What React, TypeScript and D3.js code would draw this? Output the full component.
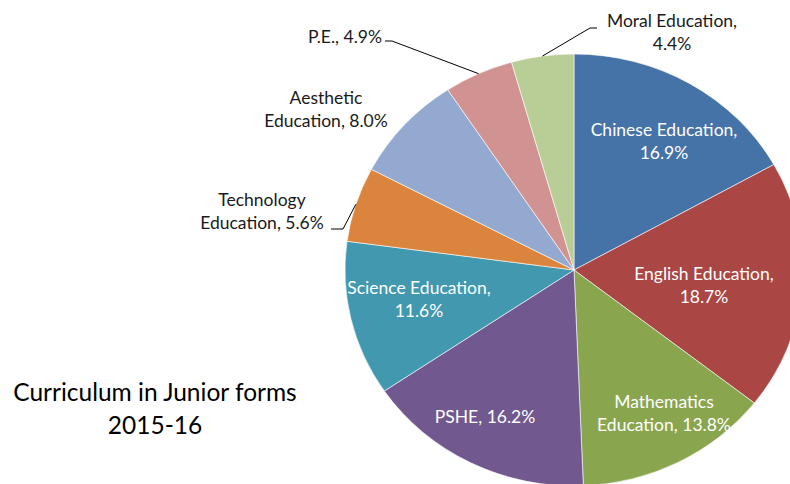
import React from "react";
import * as d3 from "d3";

const categories = [
  "Chinese Education",
  "English Education",
  "Mathematics Education",
  "PSHE",
  "Science Education",
  "Technology Education",
  "Aesthetic Education",
  "P.E.",
  "Moral Education",
];
const values = [16.9, 18.7, 13.8, 16.2, 11.6, 5.6, 8.0, 4.9, 4.4];
const colors = [
  "#4572A7",
  "#AA4643",
  "#89A54E",
  "#71588F",
  "#4198AF",
  "#DB843D",
  "#93A9CF",
  "#D19392",
  "#B9CD96",
];
// label text lines
const labelLines = [
  ["Chinese Education,", "16.9%"],
  ["English Education,", "18.7%"],
  ["Mathematics", "Education, 13.8%"],
  ["PSHE, 16.2%"],
  ["Science Education,", "11.6%"],
  ["Technology", "Education, 5.6%"],
  ["Aesthetic", "Education, 8.0%"],
  ["P.E., 4.9%"],
  ["Moral Education,", "4.4%"],
];
const titleLines = ["Curriculum in Junior forms", "2015-16"];

// layout (label anchors, not data)
const labelPos: [number, number, string][] = [
  [664, 141, "middle"],
  [704, 285, "middle"],
  [664, 413, "middle"],
  [485, 417, "middle"],
  [419, 299, "middle"],
  [262, 211, "middle"],
  [326, 109, "middle"],
  [382, 37, "end"],
  [672, 32, "middle"],
];
const inside = [true, true, true, true, true, false, false, false, false];

export default function App() {
  const W = 790, H = 484;
  const cx = 574, cy = 270, ry = 216, rx = 229;
  const pie = d3.pie<number>().sort(null).value((d) => d);
  const arcs = pie(values);
  const arc = d3.arc<d3.PieArcDatum<number>>().innerRadius(0).outerRadius(ry);
  const sx = rx / ry;
  const font = "Lato, sans-serif";
  const lh = 23;

  const edge = (i: number, f = 1) => {
    const a = (arcs[i].startAngle + arcs[i].endAngle) / 2;
    return [cx + Math.sin(a) * rx * f, cy - Math.cos(a) * ry * f];
  };
  const leaders: { pts: number[][] }[] = [];
  {
    const e5 = edge(5, 1.0);
    leaders.push({ pts: [[331, 229], [343, 229], [e5[0], e5[1]]] });
    const e7 = edge(7, 1.0);
    leaders.push({ pts: [[385, 41], [392, 41], [e7[0], e7[1]]] });
    const e8 = edge(8, 1.0);
    leaders.push({ pts: [[e8[0], e8[1]], [590, 28], [597, 28]] });
  }

  return (
    <svg width={W} height={H} style={{ position: "absolute", left: 0, top: 0 }}>
      <rect width={W} height={H} fill="#fff" />
      <g transform={`translate(${cx},${cy}) scale(${sx},1)`}>
        {arcs.map((a, i) => (
          <path key={i} d={arc(a) || ""} fill={colors[i]} stroke="#fff" strokeWidth={0.6} vectorEffect="non-scaling-stroke" />
        ))}
      </g>
      {leaders.map((l, i) => (
        <polyline key={i} points={l.pts.map((p) => p.join(",")).join(" ")} fill="none" stroke="#000" strokeWidth={1} />
      ))}
      {labelLines.map((lines, i) => {
        const [x, y, anchor] = labelPos[i];
        const n = lines.length;
        return (
          <text key={i} x={x} textAnchor={anchor as any} fontFamily={font} fontSize={17.5}
            fill={inside[i] ? "#fff" : "#1a1a1a"}>
            {lines.map((t, j) => (
              <tspan key={j} x={x} y={y + 6 + (j - (n - 1) / 2) * lh}>{t}</tspan>
            ))}
          </text>
        );
      })}
      <text x={155} textAnchor="middle" fontFamily={font} fontSize={24.5} fill="#000">
        {titleLines.map((t, j) => (
          <tspan key={j} x={155} y={401 + j * 33}>{t}</tspan>
        ))}
      </text>
    </svg>
  );
}
